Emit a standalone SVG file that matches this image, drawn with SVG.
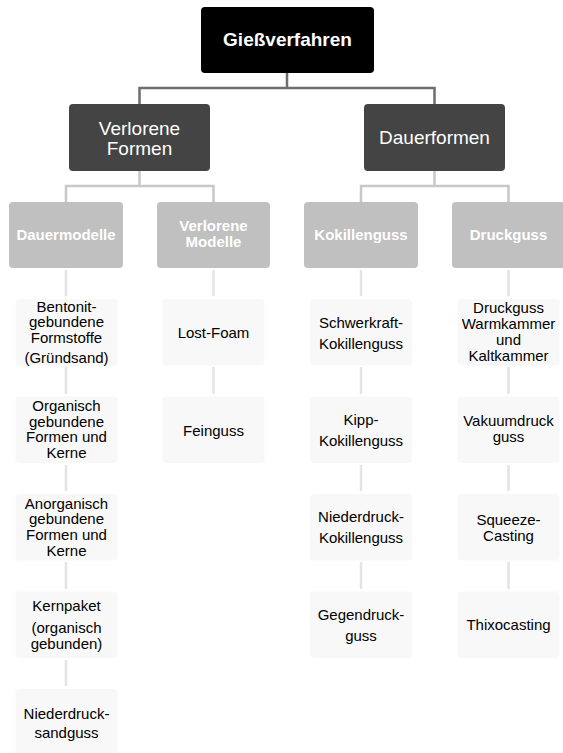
<svg xmlns="http://www.w3.org/2000/svg" width="563" height="753" viewBox="0 0 563 753">
<style>
text{font-family:"Liberation Sans",Arial,sans-serif;text-anchor:middle}
.root rect{fill:#000}
.root text{fill:#fff;font-size:19px;font-weight:bold}
.l2 rect{fill:#444}
.l2 text{fill:#fff;font-size:19px}
.l3 rect{fill:#c0c0c0}
.l3 text{fill:#fff;font-size:15px;font-weight:bold}
.leaf rect{fill:#f8f8f8}
.leaf text{fill:#000;font-size:15px}
.c1{fill:none;stroke:#6e6e6e;stroke-width:2.5}
.c2{fill:none;stroke:#c8c8c8;stroke-width:2.5}
.c3{fill:none;stroke:#e4e4e4;stroke-width:2.5}
</style>
<g id="connectors">
<path class="c1" d="M287,73V88M139.5,104V88H434.5V104"/>
<path class="c2" d="M139.5,171V186M66,202V186H213.5V202M434.5,171V186M361,202V186H508.5V202"/>
<path class="c3" d="M66,270V296M66,367V394M66,465V491M66,562V589M66,660V686M213.5,270V296M213.5,367V394M361,270V296M361,367V394M361,465V491M361,562V589M508.5,270V296M508.5,367V394M508.5,465V491M508.5,562V589"/>
</g>
<g id="giessverfahren" class="root"><rect x="201" y="7" width="173" height="66" rx="4"/><text x="287.5" y="46">Gießverfahren</text></g>
<g id="verlorene-formen" class="l2"><rect x="69" y="104" width="141" height="67" rx="4"/><text x="139.5" y="135">Verlorene</text><text x="139.5" y="155">Formen</text></g>
<g id="dauerformen" class="l2"><rect x="364" y="104" width="141" height="67" rx="4"/><text x="434.5" y="144">Dauerformen</text></g>
<g id="dauermodelle" class="l3"><rect x="9" y="202" width="114" height="66" rx="4"/><text x="66" y="240">Dauermodelle</text></g>
<g id="verlorene-modelle" class="l3"><rect x="157" y="202" width="113" height="66" rx="4"/><text x="213.5" y="231">Verlorene</text><text x="213.5" y="247">Modelle</text></g>
<g id="kokillenguss" class="l3"><rect x="304" y="202" width="114" height="66" rx="4"/><text x="361" y="240">Kokillenguss</text></g>
<g id="druckguss" class="l3"><rect x="452" y="202" width="113" height="66" rx="4"/><text x="508.5" y="240">Druckguss</text></g>
<g id="bentonit" class="leaf"><rect x="15.5" y="299" width="102" height="66.5" rx="4"/><text x="66.5" y="311.5">Bentonit-</text><text x="66.5" y="327">gebundene</text><text x="66.5" y="342.5">Formstoffe</text><text x="66.5" y="363">(Gründsand)</text></g>
<g id="organisch" class="leaf"><rect x="15.5" y="396.5" width="102" height="66.5" rx="4"/><text x="66.5" y="411">Organisch</text><text x="66.5" y="426.5">gebundene</text><text x="66.5" y="442">Formen und</text><text x="66.5" y="458">Kerne</text></g>
<g id="anorganisch" class="leaf"><rect x="15.5" y="494" width="102" height="66.5" rx="4"/><text x="66.5" y="508.5">Anorganisch</text><text x="66.5" y="524">gebundene</text><text x="66.5" y="539.5">Formen und</text><text x="66.5" y="555.5">Kerne</text></g>
<g id="kernpaket" class="leaf"><rect x="15.5" y="591.5" width="102" height="66.5" rx="4"/><text x="66.5" y="611">Kernpaket</text><text x="66.5" y="633">(organisch</text><text x="66.5" y="649">gebunden)</text></g>
<g id="niederdruck-sandguss" class="leaf"><rect x="15.5" y="689" width="102" height="66.5" rx="4"/><text x="66.5" y="718.5">Niederdruck-</text><text x="66.5" y="737.5">sandguss</text></g>
<g id="lost-foam" class="leaf"><rect x="162.5" y="299" width="102" height="66.5" rx="4"/><text x="213.5" y="338">Lost-Foam</text></g>
<g id="feinguss" class="leaf"><rect x="162.5" y="396.5" width="102" height="66.5" rx="4"/><text x="213.5" y="435.5">Feinguss</text></g>
<g id="schwerkraft" class="leaf"><rect x="310" y="299" width="102" height="66.5" rx="4"/><text x="361" y="327.5">Schwerkraft-</text><text x="361" y="348.5">Kokillenguss</text></g>
<g id="kipp" class="leaf"><rect x="310" y="396.5" width="102" height="66.5" rx="4"/><text x="361" y="425">Kipp-</text><text x="361" y="445.5">Kokillenguss</text></g>
<g id="niederdruck-kokillenguss" class="leaf"><rect x="310" y="494" width="102" height="66.5" rx="4"/><text x="361" y="521.5">Niederdruck-</text><text x="361" y="543">Kokillenguss</text></g>
<g id="gegendruckguss" class="leaf"><rect x="310" y="591.5" width="102" height="66.5" rx="4"/><text x="361" y="619.5">Gegendruck-</text><text x="361" y="641">guss</text></g>
<g id="warmkammer" class="leaf"><rect x="457.5" y="299" width="102" height="66.5" rx="4"/><text x="508.5" y="313">Druckguss</text><text x="508.5" y="329">Warmkammer</text><text x="508.5" y="345">und</text><text x="508.5" y="361">Kaltkammer</text></g>
<g id="vakuumdruckguss" class="leaf"><rect x="457.5" y="396.5" width="102" height="66.5" rx="4"/><text x="508.5" y="425.5">Vakuumdruck</text><text x="508.5" y="441.5">guss</text></g>
<g id="squeeze-casting" class="leaf"><rect x="457.5" y="494" width="102" height="66.5" rx="4"/><text x="508.5" y="524.5">Squeeze-</text><text x="508.5" y="540.5">Casting</text></g>
<g id="thixocasting" class="leaf"><rect x="457.5" y="591.5" width="102" height="66.5" rx="4"/><text x="508.5" y="630">Thixocasting</text></g>
</svg>
